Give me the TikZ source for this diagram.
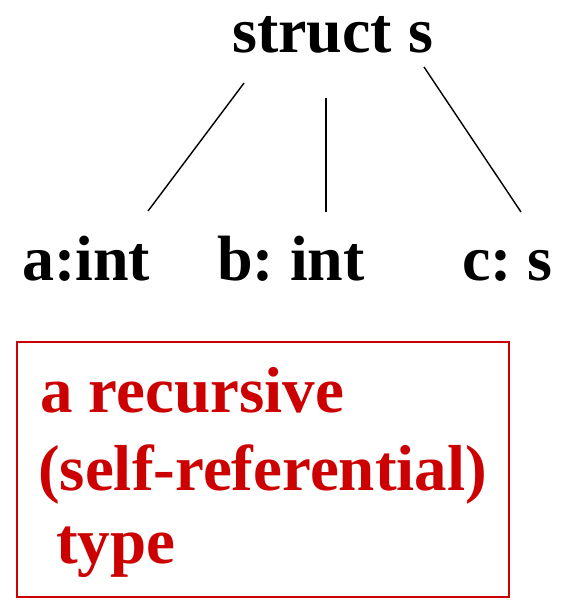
\documentclass[tikz,border=0pt]{standalone}
\usepackage{fontspec}
\setmainfont{Liberation Serif}
\definecolor{deepred}{HTML}{CC0000}
\tikzset{
  lbl/.style={anchor=base west, inner sep=0pt, font=\fontsize{64}{76}\selectfont\bfseries},
  rlbl/.style={anchor=base west, inner sep=0pt, text=deepred, font=\fontsize{65}{76}\selectfont\bfseries},
  edge/.style={line width=1.4pt, black},
  note/.style={draw=deepred, line width=1.3pt}
}
\begin{document}
\begin{tikzpicture}[x=1pt,y=-1pt]
  \useasboundingbox (0,0) rectangle (561,605);
  % tree of the struct
  \node[lbl] (root) at (232,52) {struct s};
  \node[lbl] (fa) at (22,280) {a:int};
  \node[lbl] (fb) at (217,280) {b:\hspace{16pt}int};
  \node[lbl] (fc) at (462,280) {c:\hspace{16pt}s};
  \coordinate (ra) at (244,83);  \coordinate (fat) at (148,211);
  \coordinate (rb) at (326,98);  \coordinate (fbt) at (326,212);
  \coordinate (rc) at (424,67);  \coordinate (fct) at (521,212);
  \draw[edge] (ra) -- (fat);
  \draw[edge] (rb) -- (fbt);
  \draw[edge] (rc) -- (fct);
  % remark box
  \draw[note] (17,342) rectangle (509,597);
  \node[rlbl] (n1) at (40,412) {a recursive};
  \node[rlbl] (n2) at (38,490) {(self-referential)};
  \node[rlbl] (n3) at (56,563) {type};
\end{tikzpicture}
\end{document}
